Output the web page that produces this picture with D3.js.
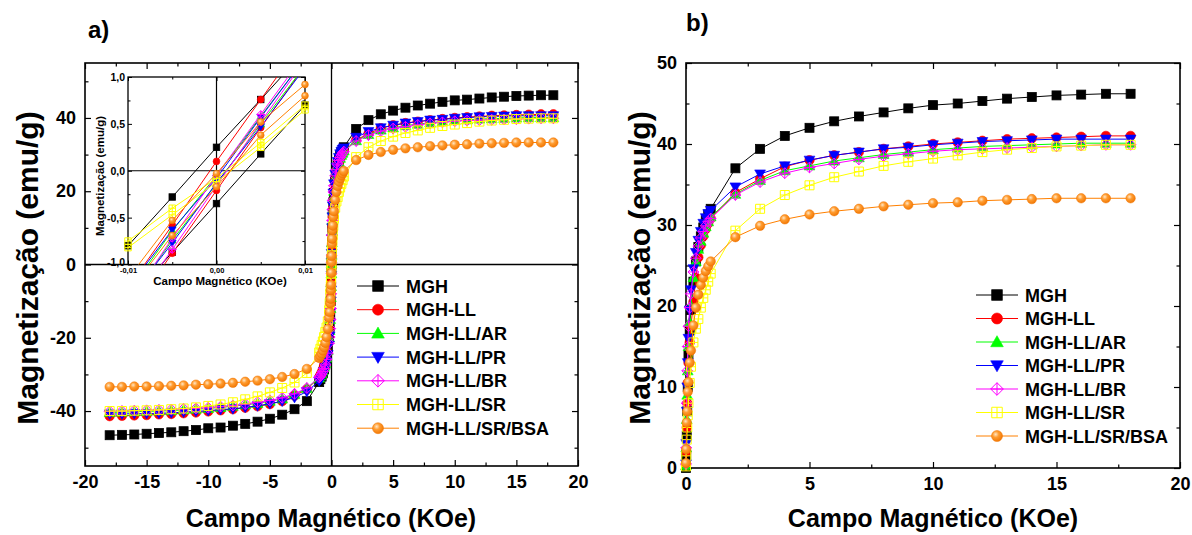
<!DOCTYPE html>
<html><head><meta charset="utf-8">
<script src="https://cdn.jsdelivr.net/npm/d3@7"></script>
<style>
body{margin:0;background:#fff}
svg{display:block}
text{font-family:Arial,"Liberation Sans",sans-serif;font-weight:bold;fill:#000}
</style>
</head><body>
<svg id="c" width="1192" height="535"></svg>
<script>
// ---------------- DATA ----------------
const seriesNames = ["MGH","MGH-LL","MGH-LL/AR","MGH-LL/PR","MGH-LL/BR","MGH-LL/SR","MGH-LL/SR/BSA"];
const seriesColors = ["#000000","#ff0000","#00ff00","#0000ff","#ff00ff","#ffff00","#ff8000"];
const seriesShapes = ["square","circle","triUp","triDown","diamondCross","squareCross","sphere"];

// positive-field branch (KOe) — panel b and right half of panel a
const fieldPos = [0,0.01,0.03,0.05,0.07,0.1,0.15,0.2,0.3,0.4,0.5,0.6,0.7,0.8,0.9,1,2,3,4,5,6,7,8,9,10,11,12,13,14,15,16,17,18];
const mMGH = [0,1.5,4,7,10,14,17,19.5,23,25.5,27.3,28.6,29.7,30.6,31.3,32.0,37.0,39.4,41.0,42.0,42.8,43.4,43.9,44.4,44.8,45.0,45.3,45.6,45.8,46.0,46.1,46.2,46.2];
const mLL  = [0.3,2,5,8,10.5,13,15.5,17.5,20.5,23.5,26,27.5,28.6,29.5,30.2,30.8,34.0,35.7,37.2,38.0,38.6,39.0,39.4,39.7,40.0,40.2,40.4,40.6,40.7,40.8,40.9,41.0,41.0];
const mAR  = [0.3,2.5,6,9,12,15,18,20,23.5,25.5,27,28,29,29.8,30.4,31.0,33.8,35.5,36.7,37.3,37.9,38.3,38.7,39.0,39.3,39.5,39.7,39.8,39.9,40.0,40.1,40.1,40.1];
const mPR  = [0.5,3,7,10,13,16,19.5,22,24.6,26.6,28.1,29.2,30.2,30.9,31.4,31.8,34.7,36.3,37.3,38.0,38.6,39.0,39.4,39.6,39.9,40.1,40.3,40.4,40.5,40.6,40.6,40.6,40.6];
const mBR  = [0.5,2.5,8,12,15,17.5,19.8,21.5,24.2,25.9,27.4,28.4,29.2,29.9,30.4,30.8,33.7,35.3,36.4,37.1,37.6,38.1,38.5,38.8,39.1,39.3,39.4,39.5,39.6,39.7,39.8,39.9,39.9];
const mSR  = [0.2,1.5,3.5,5,6.5,8,10.5,12.5,15.5,17.2,18.4,19.8,21.0,22.0,23.0,24.0,29.3,32.0,33.7,34.9,35.9,36.6,37.3,37.8,38.2,38.6,39.0,39.3,39.5,39.7,39.8,39.9,39.9];
const mBSA = [0.6,2.3,5.6,7.0,9.4,10.6,13.0,14.5,17.6,19.8,21.4,22.6,23.5,24.3,24.9,25.5,28.5,29.9,30.7,31.3,31.7,32.0,32.3,32.5,32.7,32.8,33.0,33.1,33.2,33.3,33.3,33.3,33.3];

// negative-field side (left half of panel a)
const fieldNeg = [-18,-17,-16,-15,-14,-13,-12,-11,-10,-9,-8,-7,-6,-5,-4,-3,-2,-1,-0.9,-0.8,-0.7,-0.6,-0.5,-0.4,-0.3,-0.2,-0.15,-0.1,-0.07,-0.05,-0.03,-0.01];
const nMGH = [-46.6,-46.5,-46.4,-46.2,-46.0,-45.8,-45.5,-45.2,-44.7,-44.5,-44.0,-43.5,-42.9,-42.1,-41.0,-39.5,-37.3,-32.1,-31.3,-30.6,-29.7,-28.6,-27.3,-25.5,-23,-19.5,-17,-14,-10,-7,-4,-1.5];
const nLL  = [-41.4,-41.3,-41.2,-41.1,-40.9,-40.8,-40.6,-40.4,-40.1,-39.8,-39.5,-39.1,-38.7,-38.1,-37.3,-35.8,-34.1,-30.8,-30.2,-29.5,-28.6,-27.5,-26,-23.5,-20.5,-17.5,-15.5,-13,-10.5,-8,-5,-2];
const nAR  = [-40.4,-40.3,-40.2,-40.1,-40.0,-39.9,-39.7,-39.5,-39.3,-39.0,-38.7,-38.3,-37.9,-37.3,-36.7,-35.5,-33.8,-31.0,-30.4,-29.8,-29,-28,-27,-25.5,-23.5,-20,-18,-15,-12,-9,-6,-2.5];
const nPR  = [-40.8,-40.8,-40.7,-40.7,-40.6,-40.5,-40.3,-40.1,-39.9,-39.6,-39.4,-39.0,-38.6,-38.0,-37.3,-36.3,-34.7,-31.8,-31.4,-30.9,-30.2,-29.2,-28.1,-26.6,-24.6,-22,-19.5,-16,-13,-10,-7,-3];
const nBR  = [-40.1,-40.0,-39.9,-39.8,-39.7,-39.6,-39.4,-39.3,-39.1,-38.8,-38.5,-38.1,-37.6,-37.1,-36.4,-35.3,-33.7,-30.8,-30.4,-29.9,-29.2,-28.4,-27.4,-25.9,-24.2,-21.5,-19.8,-17.5,-15,-12,-8,-2.5];
const nSR  = [-40.0,-40.0,-39.9,-39.8,-39.7,-39.5,-39.3,-39.0,-38.6,-38.2,-37.6,-36.8,-36.0,-34.9,-33.7,-32.2,-29.6,-24.0,-23.0,-22.0,-21.0,-19.8,-18.4,-17.2,-15.5,-12.5,-10.5,-8,-6.5,-5,-3.5,-1.5];
const nBSA = [-33.4,-33.4,-33.3,-33.3,-33.2,-33.1,-33.0,-32.8,-32.7,-32.5,-32.3,-32.0,-31.7,-31.3,-30.7,-29.9,-28.5,-25.5,-24.9,-24.3,-23.5,-22.6,-21.4,-19.8,-17.6,-14.5,-13.0,-10.6,-9.4,-7.0,-5.6,-2.3];

// inset: low-field hysteresis (two branches)
const insetField = [-0.01,-0.005,0,0.005,0.01];
const iMGHdown = [-0.80,-0.28,0.25,0.76,1.28], iMGHup = [-1.40,-0.87,-0.35,0.18,0.70];
const iLLdown  = [-1.25,-0.58,0.10,0.76,1.42], iLLup  = [-1.55,-0.88,-0.21,0.46,1.12];
const iARdown  = [-1.30,-0.64,-0.05,0.58,1.20], iARup  = [-1.40,-0.74,-0.14,0.50,1.12];
const iPRdown  = [-1.25,-0.63,-0.08,0.57,1.20], iPRup  = [-1.38,-0.77,-0.13,0.47,1.10];
const iBRdown  = [-1.42,-0.72,-0.05,0.60,1.25], iBRup  = [-1.50,-0.84,-0.16,0.52,1.18];
const iSRdown  = [-0.75,-0.40,-0.08,0.30,0.70], iSRup  = [-0.82,-0.47,-0.12,0.25,0.65];
const iBSAdown = [-1.15,-0.53,-0.03,0.52,0.92], iBSAup = [-1.30,-0.69,-0.17,0.38,0.80];

// tick values
const aXMajor = [-20,-15,-10,-5,0,5,10,15,20];
const aXMinor = [-17.5,-12.5,-7.5,-2.5,2.5,7.5,12.5,17.5];
const aYMajor = [-40,-20,0,20,40];
const aYMinor = [-50,-30,-10,10,30,50];
const bXMajor = [0,5,10,15,20];
const bXMinor = [2.5,7.5,12.5,17.5];
const bYMajor = [0,10,20,30,40,50];
const bYMinor = [5,15,25,35,45];
const iXMajor = [-0.01,0,0.01];
const iXMinor = [-0.005,0.005];
const iYMajor = [-1,-0.5,0,0.5,1];
const iYMinor = [-0.75,-0.25,0.25,0.75];

const posVals = [mMGH,mLL,mAR,mPR,mBR,mSR,mBSA];
const negVals = [nMGH,nLL,nAR,nPR,nBR,nSR,nBSA];
const insetDown = [iMGHdown,iLLdown,iARdown,iPRdown,iBRdown,iSRdown,iBSAdown];
const insetUp = [iMGHup,iLLup,iARup,iPRup,iBRup,iSRup,iBSAup];

// ---------------- DRAW ----------------
const svg = d3.select('#c');
const defs = svg.append('defs');
const rg = defs.append('radialGradient').attr('id','og').attr('cx','38%').attr('cy','35%').attr('r','70%');
rg.append('stop').attr('offset','0%').attr('stop-color','#ffe6c4');
rg.append('stop').attr('offset','40%').attr('stop-color','#ff9c30');
rg.append('stop').attr('offset','100%').attr('stop-color','#f07400');

function drawMarker(g, shape, color, s){
  const h = s/2;
  if(shape==='square'){
    g.append('rect').attr('x',-h).attr('y',-h).attr('width',s).attr('height',s).attr('fill',color).attr('stroke',color).attr('stroke-width',0.8);
  } else if(shape==='circle'){
    g.append('circle').attr('r',h*1.05).attr('fill',color).attr('stroke',color).attr('stroke-width',0.6);
  } else if(shape==='triUp'){
    const r=h*1.2;
    g.append('path').attr('d',`M0,${-r}L${r},${r*0.75}L${-r},${r*0.75}Z`).attr('fill',color).attr('stroke',color).attr('stroke-width',0.6);
  } else if(shape==='triDown'){
    const r=h*1.2;
    g.append('path').attr('d',`M0,${r}L${r},${-r*0.75}L${-r},${-r*0.75}Z`).attr('fill',color).attr('stroke',color).attr('stroke-width',0.6);
  } else if(shape==='diamondCross'){
    const r=h*1.2;
    g.append('path').attr('d',`M0,${-r}L${r},0L0,${r}L${-r},0ZM0,${-r}L0,${r}M${-r},0L${r},0`).attr('fill','none').attr('stroke',color).attr('stroke-width',1);
  } else if(shape==='squareCross'){
    g.append('path').attr('d',`M${-h},${-h}H${h}V${h}H${-h}ZM0,${-h}V${h}M${-h},0H${h}`).attr('fill','none').attr('stroke',color).attr('stroke-width',1);
  } else if(shape==='sphere'){
    g.append('circle').attr('r',h*1.05).attr('fill','url(#og)').attr('stroke','#f07400').attr('stroke-width',0.5);
  }
}

function frameAxes(g, x, y, t){
  const [x0,x1] = x.range(), [y0,y1] = y.range(); // y0 bottom, y1 top
  const style = sel => { sel.select('.domain').remove(); sel.selectAll('line').attr('stroke','#000').attr('stroke-width',t.tw); };
  g.append('g').attr('transform',`translate(0,${y0})`)
    .call(d3.axisBottom(x).tickValues(t.xMajor).tickSizeInner(-t.maj).tickSizeOuter(0).tickPadding(t.xPad).tickFormat(t.xFmt))
    .call(style).call(s=>s.selectAll('text').attr('font-size',t.xFont).attr('font-family',null));
  g.append('g').attr('transform',`translate(0,${y0})`)
    .call(d3.axisBottom(x).tickValues(t.xMinor).tickSizeInner(-t.min).tickSizeOuter(0).tickFormat(''))
    .call(style);
  g.append('g').attr('transform',`translate(0,${y1})`)
    .call(d3.axisTop(x).tickValues(t.xMajor).tickSizeInner(-t.maj).tickSizeOuter(0).tickFormat('')).call(style);
  g.append('g').attr('transform',`translate(0,${y1})`)
    .call(d3.axisTop(x).tickValues(t.xMinor).tickSizeInner(-t.min).tickSizeOuter(0).tickFormat('')).call(style);
  const yl = g.append('g').attr('transform',`translate(${x0},0)`)
    .call(d3.axisLeft(y).tickValues(t.yMajor).tickSizeInner(-t.maj).tickSizeOuter(0).tickPadding(t.yPad).tickFormat(t.yFmt))
    .call(style).call(s=>s.selectAll('text').attr('font-size',t.yFont).attr('font-family',null));
  if(t.yLowShift) yl.selectAll('.tick').filter(d=>d===t.yMajor[0]).select('text').attr('dy','0.05em');
  g.append('g').attr('transform',`translate(${x0},0)`)
    .call(d3.axisLeft(y).tickValues(t.yMinor).tickSizeInner(-t.min).tickSizeOuter(0).tickFormat('')).call(style);
  g.append('g').attr('transform',`translate(${x1},0)`)
    .call(d3.axisRight(y).tickValues(t.yMajor).tickSizeInner(-t.maj).tickSizeOuter(0).tickFormat('')).call(style);
  g.append('g').attr('transform',`translate(${x1},0)`)
    .call(d3.axisRight(y).tickValues(t.yMinor).tickSizeInner(-t.min).tickSizeOuter(0).tickFormat('')).call(style);
  g.append('rect').attr('x',x0).attr('y',y1).attr('width',x1-x0).attr('height',y0-y1)
    .attr('fill','none').attr('stroke','#000').attr('stroke-width',t.fw);
}

function drawSeries(g, pts, i, x, y, size){
  const line = d3.line().x(d=>x(d[0])).y(d=>y(d[1]));
  g.append('path').attr('d',line(pts)).attr('fill','none').attr('stroke',seriesColors[i]).attr('stroke-width',1);
  pts.forEach(p=>{
    const m = g.append('g').attr('transform',`translate(${x(p[0])},${y(p[1])})`);
    drawMarker(m, seriesShapes[i], seriesColors[i], size);
  });
}

function legend(g, x0, y0, dy){
  seriesNames.forEach((n,i)=>{
    const yy = y0 + i*dy;
    g.append('line').attr('x1',x0).attr('x2',x0+42).attr('y1',yy).attr('y2',yy).attr('stroke',seriesColors[i]).attr('stroke-width',1);
    const m = g.append('g').attr('transform',`translate(${x0+21},${yy})`);
    drawMarker(m, seriesShapes[i], seriesColors[i], 10.5);
    g.append('text').attr('x',x0+49).attr('y',yy+6.5).attr('font-size',18).text(n);
  });
}

const fmtInt = d => String(d);

// ---------- Panel a ----------
const ga = svg.append('g');
const xa = d3.scaleLinear().domain([-20,20]).range([85,578]);
const ya = d3.scaleLinear().domain([-55,55]).range([466,63]);
frameAxes(ga, xa, ya, {xMajor:aXMajor,xMinor:aXMinor,yMajor:aYMajor,yMinor:aYMinor,maj:6,min:3.5,tw:1.2,fw:1.6,
  xPad:9,yPad:9,xFmt:fmtInt,yFmt:fmtInt,xFont:18,yFont:18});
ga.append('line').attr('x1',xa(-20)).attr('x2',xa(20)).attr('y1',ya(0)).attr('y2',ya(0)).attr('stroke','#000').attr('stroke-width',1.3);
ga.append('line').attr('x1',xa(0)).attr('x2',xa(0)).attr('y1',ya(55)).attr('y2',ya(-55)).attr('stroke','#000').attr('stroke-width',1.3);
seriesNames.forEach((n,i)=>{
  const pts = fieldNeg.map((f,k)=>[f,negVals[i][k]]).concat(fieldPos.map((f,k)=>[f,posVals[i][k]]));
  drawSeries(ga, pts, i, xa, ya, 9);
});
legend(ga, 357, 286, 23.7);
ga.append('text').attr('x',331).attr('y',527).attr('text-anchor','middle').attr('font-size',25).text('Campo Magnético (KOe)');
ga.append('text').attr('transform','translate(38,268) rotate(-90)').attr('text-anchor','middle').attr('font-size',30).text('Magnetização (emu/g)');
ga.append('text').attr('x',88).attr('y',38).attr('font-size',24).text('a)');

// ---------- Inset ----------
const gi = svg.append('g');
const xi = d3.scaleLinear().domain([-0.01,0.01]).range([128,305]);
const yi = d3.scaleLinear().domain([-1,1]).range([264.5,77]);
gi.append('rect').attr('x',128).attr('y',77).attr('width',177).attr('height',187.5).attr('fill','#fff');
defs.append('clipPath').attr('id','ic').append('rect').attr('x',128).attr('y',77).attr('width',177).attr('height',187.5);
frameAxes(gi, xi, yi, {xMajor:iXMajor,xMinor:iXMinor,yMajor:iYMajor,yMinor:iYMinor,maj:4,min:2.5,tw:1,fw:1.3,
  xPad:3,yPad:3,xFmt:d=>d.toFixed(2).replace('.',','),yFmt:d=>d.toFixed(1).replace('.',','),xFont:7.5,yFont:10.5,yLowShift:true});
gi.append('line').attr('x1',xi(-0.01)).attr('x2',xi(0.01)).attr('y1',yi(0)).attr('y2',yi(0)).attr('stroke','#000').attr('stroke-width',1.2);
gi.append('line').attr('x1',xi(0)).attr('x2',xi(0)).attr('y1',yi(1)).attr('y2',yi(-1)).attr('stroke','#000').attr('stroke-width',1.2);
const lineI = d3.line().x(d=>xi(d[0])).y(d=>yi(d[1]));
seriesNames.forEach((n,i)=>{
  [insetDown[i], insetUp[i]].forEach(br=>{
    const pts = insetField.map((f,k)=>[f,br[k]]);
    gi.append('path').attr('d',lineI(pts)).attr('clip-path','url(#ic)').attr('fill','none').attr('stroke',seriesColors[i]).attr('stroke-width',1);
    pts.filter(p=>p[1]>=-1.02 && p[1]<=1.02).forEach(p=>{
      const m = gi.append('g').attr('transform',`translate(${xi(p[0])},${yi(p[1])})`);
      drawMarker(m, seriesShapes[i], seriesColors[i], 6.5);
    });
  });
});
gi.append('text').attr('x',220).attr('y',285).attr('text-anchor','middle').attr('font-size',11.5).text('Campo Magnético (KOe)');
gi.append('text').attr('transform','translate(104,176) rotate(-90)').attr('text-anchor','middle').attr('font-size',11.5).text('Magnetização (emu/g)');

// ---------- Panel b ----------
const gb = svg.append('g');
const xb = d3.scaleLinear().domain([0,20]).range([686,1180]);
const yb = d3.scaleLinear().domain([0,50]).range([468,63]);
frameAxes(gb, xb, yb, {xMajor:bXMajor,xMinor:bXMinor,yMajor:bYMajor,yMinor:bYMinor,maj:6,min:3.5,tw:1.2,fw:1.6,
  xPad:9,yPad:9,xFmt:fmtInt,yFmt:fmtInt,xFont:18,yFont:18});
seriesNames.forEach((n,i)=>{
  const pts = fieldPos.map((f,k)=>[f,posVals[i][k]]);
  drawSeries(gb, pts, i, xb, yb, 9);
});
legend(gb, 976, 295, 23.5);
gb.append('text').attr('x',933).attr('y',527).attr('text-anchor','middle').attr('font-size',25).text('Campo Magnético (KOe)');
gb.append('text').attr('transform','translate(650,268) rotate(-90)').attr('text-anchor','middle').attr('font-size',30).text('Magnetização (emu/g)');
gb.append('text').attr('x',686).attr('y',31).attr('font-size',24).text('b)');
</script>
</body></html>
